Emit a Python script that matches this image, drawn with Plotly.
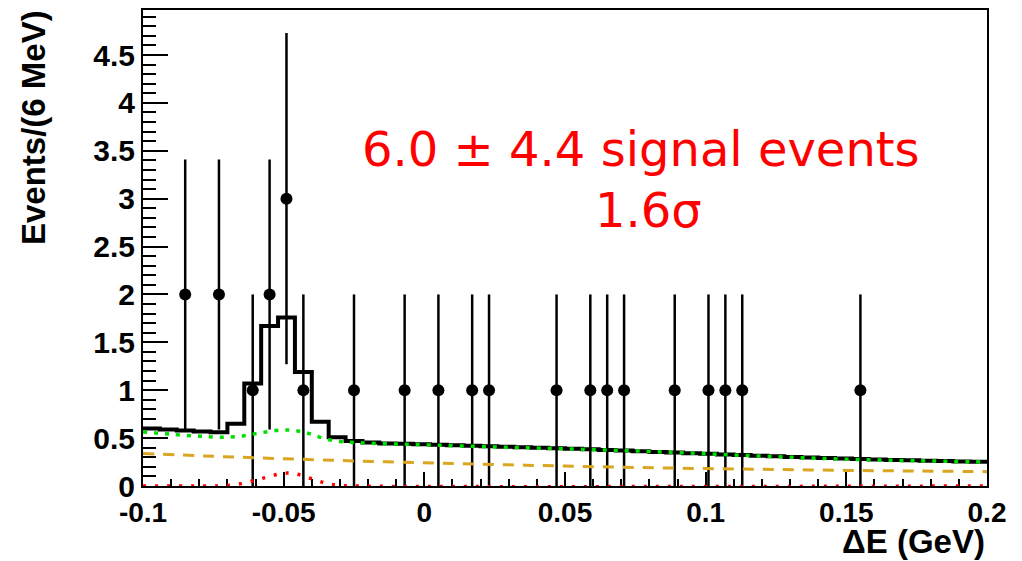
import plotly.graph_objects as go

# ---------------- data ----------------
# binned data: bin centers (GeV), counts and sqrt(N) error bars
data_x = [-0.085, -0.073, -0.061, -0.055, -0.049, -0.043, -0.025, -0.007, 0.005,
          0.017, 0.023, 0.047, 0.059, 0.065, 0.071, 0.089, 0.101, 0.107, 0.113, 0.155]
data_y = [2, 2, 1, 2, 3, 1, 1, 1, 1, 1, 1, 1, 1, 1, 1, 1, 1, 1, 1, 1]
err_hi = [1.41, 1.41, 1.0, 1.41, 1.73, 1.0, 1.0, 1.0, 1.0, 1.0, 1.0, 1.0, 1.0, 1.0, 1.0, 1.0, 1.0, 1.0, 1.0, 1.0]
err_lo = [1.41, 1.41, 1.0, 1.41, 1.73, 1.0, 1.0, 1.0, 1.0, 1.0, 1.0, 1.0, 1.0, 1.0, 1.0, 1.0, 1.0, 1.0, 1.0, 1.0]

# total fit, one value per 6 MeV bin (50 bins from -0.1 to 0.2)
bin_lo = -0.1
bin_w = 0.006
total_y = [0.60, 0.59, 0.58, 0.57, 0.56, 0.65, 1.07, 1.67, 1.76, 1.19,
           0.67, 0.51, 0.47, 0.455, 0.445, 0.44, 0.435, 0.43, 0.425, 0.42,
           0.415, 0.41, 0.405, 0.40, 0.395, 0.39, 0.383, 0.376, 0.37, 0.363,
           0.356, 0.35, 0.343, 0.336, 0.33, 0.323, 0.316, 0.31, 0.304, 0.298,
           0.292, 0.286, 0.281, 0.276, 0.272, 0.268, 0.264, 0.26, 0.256, 0.252]

# background sum (green dotted)
bkg_x = [-0.100, -0.090, -0.080, -0.075, -0.070, -0.065, -0.060, -0.055, -0.050, -0.045,
         -0.040, -0.035, -0.030, -0.025, -0.020, -0.010, 0.000, 0.025, 0.050, 0.075,
         0.100, 0.125, 0.150, 0.175, 0.200]
bkg_y = [0.565, 0.54, 0.52, 0.512, 0.51, 0.52, 0.545, 0.57, 0.585, 0.575,
         0.54, 0.49, 0.465, 0.455, 0.448, 0.438, 0.43, 0.408, 0.388, 0.366,
         0.337, 0.306, 0.28, 0.264, 0.25]

# combinatorial background (orange dashed)
comb_x = [-0.100, -0.075, -0.050, -0.025, 0.000, 0.025, 0.050, 0.075, 0.100, 0.125, 0.150, 0.175, 0.200]
comb_y = [0.34, 0.31, 0.285, 0.262, 0.243, 0.225, 0.208, 0.194, 0.182, 0.172, 0.163, 0.156, 0.15]

# peaking background (red dotted)
peak_x = [-0.100, -0.075, -0.070, -0.065, -0.060, -0.055, -0.050, -0.046, -0.042, -0.038,
          -0.034, -0.030, -0.025, 0.200]
peak_y = [0.0, 0.0, 0.005, 0.025, 0.06, 0.10, 0.133, 0.128, 0.095, 0.055,
          0.022, 0.007, 0.0, 0.0]

x_tickvals = [-0.1, -0.05, 0, 0.05, 0.1, 0.15, 0.2]
x_ticktext = ["-0.1", "-0.05", "0", "0.05", "0.1", "0.15", "0.2"]
y_tickvals = [0, 0.5, 1, 1.5, 2, 2.5, 3, 3.5, 4, 4.5]
y_ticktext = ["0", "0.5", "1", "1.5", "2", "2.5", "3", "3.5", "4", "4.5"]

# ---------------- figure ----------------
edges = [bin_lo + bin_w * i for i in range(len(total_y) + 1)]
step_y = total_y + [total_y[-1]]

fig = go.Figure()

fig.add_trace(go.Scatter(
    x=data_x, y=data_y, mode="markers",
    marker=dict(color="black", size=12, symbol="circle"),
    error_y=dict(type="data", symmetric=False, array=err_hi, arrayminus=err_lo,
                 color="black", thickness=2.5, width=0),
    showlegend=False))

fig.add_trace(go.Scatter(
    x=edges, y=step_y, mode="lines", line=dict(color="black", width=4, shape="hv"),
    showlegend=False))

fig.add_trace(go.Scatter(
    x=bkg_x, y=bkg_y, mode="lines",
    line=dict(color="#00e000", width=3.5, dash="4px,7px", shape="spline"),
    showlegend=False))

fig.add_trace(go.Scatter(
    x=comb_x, y=comb_y, mode="lines",
    line=dict(color="#daa520", width=3, dash="11px,9px", shape="spline"),
    showlegend=False))

fig.add_trace(go.Scatter(
    x=peak_x, y=peak_y, mode="lines",
    line=dict(color="#ff0000", width=3.5, dash="3px,9px", shape="spline"),
    showlegend=False))

xtickfont = dict(family="Liberation Sans, Arial, sans-serif", size=28, color="black", weight="bold")
ytickfont = dict(family="Liberation Sans, Arial, sans-serif", size=30, color="black", weight="bold")

fig.update_layout(
    width=1022, height=561, autosize=False,
    margin=dict(l=143, r=35, t=8, b=75),
    plot_bgcolor="white", paper_bgcolor="white",
    xaxis=dict(range=[-0.1, 0.2], tickvals=x_tickvals, ticktext=x_ticktext,
               ticks="inside", ticklen=14, tickwidth=1.5, tickcolor="black",
               minor=dict(ticks="inside", ticklen=7, dtick=0.01, tick0=0,
                          tickcolor="black", tickwidth=1.5, showgrid=False),
               showline=True, mirror=True, linecolor="black", linewidth=2,
               layer="below traces",
               showgrid=False, zeroline=False, tickfont=xtickfont),
    yaxis=dict(range=[0, 4.97], tickvals=y_tickvals, ticktext=y_ticktext,
               ticks="inside", ticklen=25, tickwidth=1.5, tickcolor="black",
               minor=dict(ticks="inside", ticklen=13, dtick=0.1, tick0=0,
                          tickcolor="black", tickwidth=1.5, showgrid=False),
               showline=True, mirror=True, linecolor="black", linewidth=2,
               layer="below traces",
               showgrid=False, zeroline=False, tickfont=ytickfont),
    annotations=[
        dict(text="Events/(6 MeV)", xref="paper", yref="paper", x=-0.1303, y=0.752,
             xanchor="center", yanchor="middle", textangle=-90, showarrow=False,
             font=dict(family="Liberation Sans, Arial, sans-serif", size=33,
                       color="black", weight="bold")),
        dict(text="ΔE (GeV)", xref="paper", yref="paper", x=1.0, y=-0.117,
             xanchor="right", yanchor="middle", showarrow=False,
             font=dict(family="Liberation Sans, Arial, sans-serif", size=33,
                       color="black", weight="bold")),
        dict(text="6.0 ± 4.4 signal events", xref="paper", yref="paper",
             x=0.590, y=0.709, xanchor="center", yanchor="middle", showarrow=False,
             font=dict(family="DejaVu Sans", size=48, color="#ff0000")),
        dict(text="1.6σ", xref="paper", yref="paper",
             x=0.5995, y=0.5795, xanchor="center", yanchor="middle", showarrow=False,
             font=dict(family="DejaVu Sans", size=48, color="#ff0000")),
    ],
)

fig.write_html("out.html")
